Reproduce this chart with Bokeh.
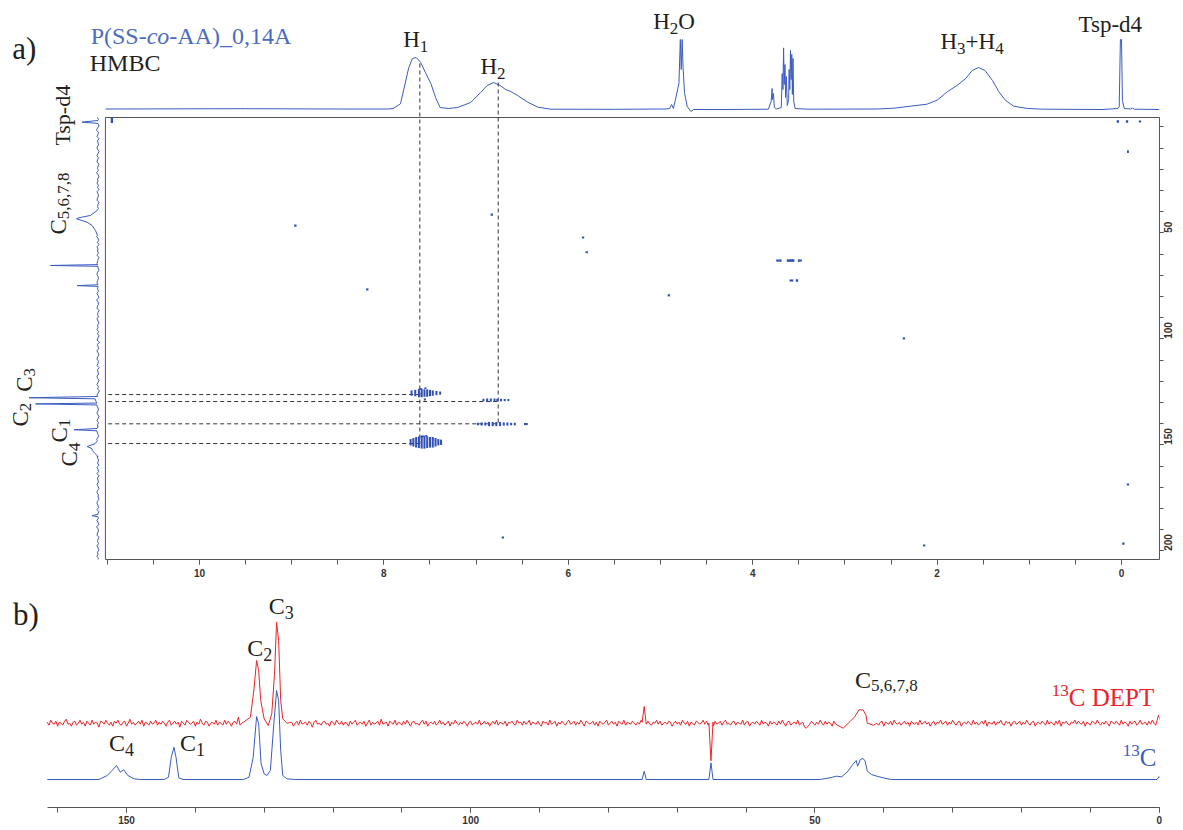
import math
from bokeh.plotting import figure
from bokeh.models import Range1d, LinearAxis, FixedTicker
from bokeh.layouts import column
from bokeh.core.properties import value
from bokeh.embed import file_html
from bokeh.resources import INLINE

# ---------------- data ----------------
# 1H projection (top trace of the HMBC map)
H1_PPM = [11.02, 9.50, 8.50, 7.95, 7.90, 7.82, 7.77, 7.73, 7.69, 7.65, 7.60, 7.55, 7.49, 7.44, 7.39, 7.30,
          7.20, 7.06, 6.95, 6.88, 6.81, 6.74, 6.68, 6.63, 6.55, 6.44, 6.33, 6.19, 5.50, 4.95, 4.90, 4.88,
          4.86, 4.84, 4.80, 4.785, 4.775, 4.765, 4.755, 4.74, 4.71, 4.67, 4.64, 4.30, 3.83, 3.80, 3.79,
          3.785, 3.775, 3.765, 3.74, 3.69, 3.68, 3.672, 3.665, 3.658, 3.65, 3.643, 3.635, 3.625, 3.61,
          3.605, 3.598, 3.59, 3.583, 3.576, 3.57, 3.563, 3.555, 3.54, 3.40, 2.65, 2.47, 2.29, 2.11, 2.00,
          1.89, 1.78, 1.69, 1.62, 1.55, 1.48, 1.40, 1.33, 1.26, 1.17, 1.02, 0.84, 0.20, 0.04, 0.025,
          0.012, 0.0, -0.01, -0.03, -0.10, -0.12, -0.14, -0.41]
H1_INT = [0.5, 0.8, 0.5, 0.5, 1, 5.7, 25.7, 42, 51, 52, 47, 37, 26, 12, 2, 1,
          2, 7, 17, 24, 27, 24, 20, 18.3, 14, 7.3, 2.3, 0.3, 0.2, 0.5, 1, 5,
          1, 9, 26, 70, 40, 70, 42, 17, 3, -2, 0, 0, 0.3, 8, 21,
          10, 16, 2, 0.5, 2, 36, 20, 61.6, 25, 45, 12, 33, 4, 10,
          40, 20, 59, 30, 55, 15, 51, 8, 1, 0.3, 0.5, 1.3, 3.3, 5.3, 9.3,
          17.7, 24.3, 31, 39, 42, 39, 29, 17.7, 9.3, 3.3, 1, 0.3, 0, 1, 2.6,
          70, 70, 9, 1, 0.5, 1.5, 0.3, 0]

# 13C projection (left trace of the HMBC map): peaks (ppm, intensity) and baseline noise
C13V_PEAKS = [
    [(-3.0, 0), (-2.2, 16), (-1.6, 0)],
    [(39.5, 1), (41.8, 7.5), (42.9, 19), (43.4, 21.5), (44.2, 16), (45.0, 11), (46.5, 6), (48.9, 2.5), (51.3, 0.5)],
    [(65.0, 0), (65.4, 47.5), (65.8, 0)],
    [(74.5, 0), (74.9, 21), (75.3, 0)],
    [(127.2, 0.5), (127.8, 69), (128.3, 3), (129.5, 2), (130.3, 1), (130.7, 62.5), (131.2, 1)],
    [(142.3, 1), (142.9, 24), (143.4, 1)],
    [(148.0, 0.5), (149.5, 3), (150.8, 10.8), (151.8, 6), (152.7, 5.8), (154.3, 2.5), (155.5, 0)],
    [(182.8, 0), (183.4, 6), (184.0, 0)],
]
C13V_NOISE = [0.5, -0.5, 1, 0, -1, 0.5, 1.5, -0.5, 0, 1, -1, 0.5, 0, -0.5, 1, 0.5, -1, 0, 1, -0.5,
              0.5, 1, -1, 0, 0.5, -0.5, 1.5, 0, -1, 0.5, 0, 1, -0.5, 0.5, -1, 1, 0, -0.5, 0.5, 1,
              -1, 0, 0.5, -0.5, 1, 0, -1, 0.5, 1, -0.5, 0, 0.5, -1, 1, 0, -0.5, 1.5, 0, -0.5, 0.5,
              -1, 1, 0, 0.5, -0.5, 1, -1, 0, 0.5, 1, -0.5, 0, -1, 0.5, 1, 0, -0.5, 0.5, 1, -1,
              0, 0.5, -0.5, 1, 0, -1, 1.5, 0, -0.5, 0.5, 1, -1, 0, 0.5, -0.5, 1, 0, -1, 0.5, 0,
              1, -0.5, 0.5, -1, 0, 1, -1.5, 0.5, 0, -0.5, 1, 0, -1, 0.5, 1, -0.5, 0, 1, -1, 0.5,
              0, -0.5, 1, 0.5, -1, 0, 1, -0.5, 0.5, -1.5, 0, 1, -0.5, 0, 0.5, -1, 1, 0, -0.5, 1,
              0.5, -1, 0, 1, -0.5, 0.5, 0, -1, 1, 0.5, -0.5, 0, 1.5, -1, 0, 0.5, -0.5, 1, 0, -1,
              1, 0, -0.5, 0.5, -1, 1, 0, -0.5, 1, -1, 0.5, 0, -0.5, 1, 0, -1, 0.5, 1, -0.5, 0,
              -1, 0.5, 1, 0, -0.5, 1, -1, 0, 0.5, -0.5, 1, 0, -1, 1.5, 0, -0.5, 0.5, 1, -1, 0,
              0.5, -0.5, 1, 0, -1, 0.5, 0, 1, -0.5, 0.5, -1, 1, 0, -0.5, 0.5, 1, -1, 0, 0.5, 0]

# HMBC cross peaks: 1H ppm, 13C ppm, extent in 1H ppm, extent in 13C ppm
CROSS_H = [7.70, 7.66, 7.62, 7.59, 7.56, 7.53, 7.50, 7.47, 7.43, 7.39, 7.556, 7.55, 7.60,
           6.92, 6.88, 6.84, 6.80, 6.77, 6.73, 6.69, 6.65,
           6.98, 6.94, 6.90, 6.86, 6.82, 6.78, 6.74, 6.70, 6.66, 6.62, 6.58, 6.46,
           7.71, 7.68, 7.65, 7.62, 7.59, 7.56, 7.53, 7.50, 7.47, 7.44, 7.41, 7.38, 7.58, 7.54,
           8.96, 8.18, 6.83, 5.84, 5.80, 4.91, 2.36, 6.71, 2.14, -0.07, -0.02, 0.04, -0.06, -0.20,
           -0.07, 10.95, 3.73, 3.70, 3.61, 3.58, 3.56, 3.50, 3.48, 3.58, 3.52, 3.49, 3.47]
CROSS_C = [125.6, 125.6, 125.6, 125.6, 125.6, 125.6, 125.6, 125.6, 125.6, 125.6, 128.6, 123.3, 123.6,
           128.9, 128.9, 128.9, 128.9, 128.9, 128.9, 128.9, 128.9,
           140.2, 140.2, 140.2, 140.2, 140.2, 140.2, 140.2, 140.2, 140.2, 140.2, 140.2, 140.2,
           148.8, 148.8, 148.8, 148.8, 148.8, 148.8, 148.8, 148.8, 148.8, 148.8, 148.8, 148.8, 146.0, 145.8,
           46.6, 76.7, 41.4, 52.2, 59.2, 79.5, 99.8, 193.7, 197.5, 168.7, 196.6, -2.5, -2.5, -2.5,
           11.7, -3.0, 63.1, 63.1, 63.1, 63.1, 63.1, 63.1, 63.1, 72.5, 72.5, 72.5, 72.5]
CROSS_DH = [0.022] * 13 + [0.022] * 8 + [0.022] * 11 + [0.04] + [0.022] * 12 + [0.04, 0.022] + \
           [0.025] * 14 + [0.02, 0.025, 0.03, 0.025, 0.04, 0.03, 0.025, 0.02, 0.025, 0.04, 0.025]
CROSS_DC = [2.5, 3.0, 4.0, 4.0, 3.5, 3.5, 3.0, 2.5, 2.0, 1.5, 1.0, 0.8, 0.8,
            1.2, 1.5, 1.5, 1.5, 1.2, 1.2, 1.0, 1.0,
            1.2, 1.5, 1.5, 2.0, 2.0, 2.0, 2.0, 1.5, 1.5, 1.2, 1.2, 1.0,
            3.0, 4.0, 5.0, 5.5, 6.0, 6.0, 5.5, 5.0, 5.0, 4.0, 3.0, 2.5, 0.8, 0.8,
            1.0, 1.0, 1.0, 1.0, 1.0, 1.0, 1.0, 1.0, 1.0, 1.0, 1.0, 1.2, 1.2, 1.0,
            1.2, 2.5, 1.0, 1.2, 1.2, 1.2, 1.2, 1.2, 1.0, 1.0, 1.2, 1.2, 1.0]

# correlation guide lines (1H ppm / 13C ppm)
GUIDE_H = [7.61, 6.76]
GUIDE_TOP_INT = [46, 27]
GUIDE_C_END = [149.4, 140.1]
HGUIDE_C = [126.3, 129.6, 140.1, 149.4]
HGUIDE_H_END = [7.61, 6.76, 6.76, 7.61]

# panel b: 13C spectrum (blue)
C13_PPM = [161.5, 154.0, 152.8, 152.1, 151.45, 150.9, 150.4, 149.8, 148.9, 148.0, 144.5, 143.9, 143.5, 143.1,
           142.8, 142.4, 141.8, 133.0, 132.2, 131.6, 131.1, 130.8, 130.45, 130.0, 129.6, 129.1, 128.6, 128.2,
           127.9, 127.6, 127.3, 126.7, 125.5, 75.1, 74.8, 74.5, 65.4, 65.1, 64.8, 49.3, 47.8, 46.9, 46.1,
           45.2, 44.5, 44.0, 43.8, 43.4, 43.0, 42.7, 42.4, 41.8, 41.0, 40.1, 38.9, 0.3, 0.0, -0.3, -1.2]
C13_INT = [0, 0, 4, 9, 14, 7.3, 9.7, 4, 0.7, 0, 0, 2.3, 22, 32.3,
           22, 1.7, 0, 0, 2.3, 22, 63, 55.7, 15.7, 5.7, 4, 9, 55.7, 89,
           79, 29, 4, 0.7, 0, 0, 8.3, 0, 0, 16.7, 0, 0, 1.7, 3.3, 2.7,
           8.3, 15, 19, 13.3, 20, 21, 18.3, 8.3, 5, 3.3, 1.7, 0, 0, 3, 0, 0]

# panel b: 13C DEPT spectrum (red): peaks and baseline noise
DEPT_PEAKS = [
    [(133.0, 1), (132.0, 6), (131.5, 33), (131.1, 62.7), (130.8, 52.7), (130.5, 22.7), (130.0, 4.3),
     (129.4, -2.3), (128.9, 9.3), (128.5, 49), (128.2, 101), (127.9, 82.7), (127.6, 22.7), (127.3, 4.3),
     (126.7, 0), (126.0, 1)],
    [(75.1, 1), (74.8, 16.7), (74.5, -1)],
    [(65.4, 0), (65.1, -37.6), (64.8, 1)],
    [(47.0, -1), (45.9, -5), (44.9, 1.7), (44.2, 6.7), (43.6, 13.3), (43.0, 13.3), (42.6, 8.3), (42.4, 0), (41.5, -2)],
    [(0.4, 0), (0.1, 8), (-0.2, 2), (-0.5, -1)],
]
DEPT_NOISE = [
    1, -2, 3, 0, -1, 2, -3, 1, 0, -2, 2, 4, -1, 0, -3, 1, 2, -2, 0, 3,
    -1, 1, -3, 2, 0, -2, 3, -1, 1, 0, -4, 2, 1, -1, 3, 0, -2, 1, -3, 2,
    0, 3, -1, -2, 1, 2, -3, 0, 4, -1, 1, -2, 0, 2, -1, 3, -3, 1, 0, -2,
    2, -1, 0, 3, -2, 1, -1, 2, 0, -3, 1, 3, -2, 0, 2, -1, 1, -4, 2, 0,
    -2, 3, 1, -1, 0, 2, -3, 1, -1, 4, 0, -2, 2, 1, -3, 0, 1, -1, 3, -2,
    1, 0, -2, 3, -1, 2, 0, -3, 1, 2, -1, 6, -2, 0, 1, -3, 2, -1, 0, 3,
    -1, 2, -2, 0, 1, -3, 3, -1, 0, 2, -2, 1, 3, -1, 0, -2, 2, -3, 1, 0,
    2, -1, 1, -3, 0, 2, -2, 3, -1, 0, 1, -2, 2, 0, -4, 1, 3, -1, 0, -2,
    1, 2, -1, 0, -3, 2, 1, -2, 3, 0, -1, 2, -2, 1, 0, -3, 2, -1, 1, 3,
    -2, 0, 1, -1, 2, -3, 0, 3, -2, 1, -1, 0, 2, -2, 4, -1, 0, 1, -3, 2,
    0, -1, 3, -2, 1, 0, -2, 2, -1, 3, 0, -3, 1, 2, -1, 0, -2, 1, 3, -1,
    2, -3, 0, 1, -1, 2, -2, 0, 3, -1, 1, -2, 0, 2, -3, 1, -1, 3, 0, -2,
    1, -1, 2, 0, -3, 1, 2, -2, 0, 1, -1, 3, -2, 0, 2, -1, 1, -3, 0, 2,
    -1, 3, -2, 1, 0, -1, 2, -3, 1, 0, 2, -1, -2, 3, 0, 1, -2, 2, -1, 0,
    3, -2, 1, 0, -1, 2, -1, -3, 2, 0, 1, -2, 3, -1, 0, 2, -3, 1, -1, 2,
    0, -2, 1, 3, -1, 0, 2, -2, 1, -1, 3, 0, -3, 2, 1, -1, 0, 2, -2, 1,
    -3, 2, 0, -1, 1, 3, -2, 0, 2, -1, 1, -3, 2, 0, -1, 3, -2, 1, 0, -1,
    2, 0, -2, 1, -1, 3, -3, 0, 1, 2, -1, -2, 1, 0, 3, -1, 2, -2, 0, 1,
    -1, 2, 1, -3, 0, 2, -1, 1, -2, 3, 0, -1, 2, -3, 1, 0, -2, 2, 1, -1,
    0, 3, -1, 2, -2, 0, 1, -3, 2, -1, 0, 2, -2, 1, 3, -1, 0, -2, 1, 2,
    -2, 1, 0, -1, 3, -2, 1, 2, -3, 0, 1, -1, 2, 0, -2, 3, -1, 1, 0, -3,
    2, -1, 1, 0, -2, 2, -1, 3, 0, -3, 1, 2, -2, 0, 1, -1, 3, -2, 0, 1,
    -4, -5, -3, -1, 2, 0, -2, 1, -1, 3, 0, -2, 2, -1, 1, 0, -3, 2, 1, -1,
    0, 2, -2, 1, -1, 3, -2, 0, 1, -1, 2, 0, -3, 1, 2, -1, 0, 2, -2, 1,
    3, -1, 0, -2, 1, 2, -3, 1, 0, -1, 2, -2, 3, 0, -1, 1, -2, 0, 2, -1,
    1, -3, 2, 0, -1, 1, -2, 3, -1, 0, 2, -1, 1, -3, 0, 2, -2, 1, 0, 3,
    -1, 0, 2, -2, 1, -1, 3, 0, -2, 1, 2, -3, 0, 1, -1, 2, 0, -2, 3, -1,
    1, -2, 0, 2, -1, 3, -3, 1, 0, -1, 2, -2, 1, 0, 3, -1, -2, 2, 0, 1,
    -3, 1, 2, -1, 0, 2, -2, 1, -1, 3, 0, -2, 1, 2, -3, 0, 1, -1, 2, 0,
    -2, 3, -1, 1, 0, -2, 2, -1, 3, -3, 1, 0, 2, -1, -2, 1, 0, 3, -1, 2,
    0, -1, 2, -3, 1, 0, -2, 2, 1, -1, 3, 0, -2, 1, -1, 2, 0, -3, 2, 1,
    -1, 2, 0, -2, 3, -1, 1, 0, -3, 2, -1, 1, 2, -2, 0, 3, -1, 0, 1, -2,
    2, -1, 3, 0, -2, 1, -1, 2, -3, 0, 1, 2, -1, 0, -2, 3, 1, -1, 0, 2]

# axis ticks
H_TICKS = [0, 2, 4, 6, 8, 10]
H_MINOR = [0, 0.5, 1, 1.5, 2, 2.5, 3, 3.5, 4, 4.5, 5, 5.5, 6, 6.5, 7, 7.5, 8, 8.5, 9, 9.5, 10, 10.5, 11]
C_TICKS = [50, 100, 150, 200]
C_MINOR = [0, 10, 20, 30, 40, 50, 60, 70, 80, 90, 100, 110, 120, 130, 140, 150, 160, 170, 180, 190, 200]
B_TICKS = [0, 50, 100, 150]
B_MINOR = [0, 10, 20, 30, 40, 50, 60, 70, 80, 90, 100, 110, 120, 130, 140, 150, 160]

# ---------------- style / layout constants ----------------
BLUE = "#3a5cbf"
TITLE_BLUE = "#4a6cc2"
DOT_BLUE = "#2f4fb5"
RED = "#ec2327"
INK = "#231f20"
AXIS_C = "#555555"
GUIDE_C = "#333333"
SERIF = "Liberation Serif"
SANS = "Liberation Sans"

W = 1180
RIGHT_BORDER = W - 1159      # both panels share the same right border (frames are aligned)
A_XR = (12.158, -0.412)      # 1H ppm across panel a frame
A_YR = (204.1, -59.58)       # 13C ppm across panel a frame (bottom, top)
A_HINT = (-450.0, 109.0)     # top-trace intensity range
A_CINT = (97.5, -1061.5)     # left-trace intensity range
WIN_H = (-0.412, 11.02)      # 2D window, 1H
WIN_C = (-4.39, 204.1)       # 2D window, 13C
B_XR = (168.3, -0.05)
B_YR = (-28.0, 195.0)
DEPT_OFFSET = 56.3
BASE_FIX = 0.33              # baseline correction (fraction of font size) for horizontal text

TW = {'H': .722, 'C': .667, 'O': .722, 'T': .611, 's': .389, 'p': .5, '-': .333, '+': .564, 'd': .5,
      ',': .25, 'P': .556, '(': .333, ')': .333, 'S': .556, 'c': .444, 'o': .5, 'A': .722, '_': .5,
      'M': .889, 'B': .667, 'E': .611, 'D': .722, ' ': .25, 'a': .444, 'b': .5}


def text_width(s, size):
    return sum(TW.get(ch, 0.5) for ch in s) * size


def rich(fig, x, y, parts, color, angle=0.0, xr="default", yr="default", xpp=0.0, ypp=1.0):
    """parts: (text, size_px, shift_down_px, style)"""
    adv = 0.0
    for part in parts:
        txt, size, shift = part[0], part[1], part[2]
        style = part[3] if len(part) > 3 else "normal"
        if angle == 0:
            px, py, xo = x, y - (shift - BASE_FIX * size) * ypp, adv
        else:
            px, py, xo = x + shift * xpp, y + adv * ypp, 0
        fig.text(x=[px], y=[py], text=[txt], x_offset=xo, angle=angle,
                 text_font=value(SERIF), text_font_size=value(f"{size}px"),
                 text_font_style=style, text_color=color, text_align="left",
                 text_baseline="alphabetic", x_range_name=xr, y_range_name=yr)
        adv += text_width(txt, size)


def assemble(start, step, noise, peaks):
    grid = [start + step * i for i in range(len(noise))]
    windows = [(min(p for p, _ in pk), max(p for p, _ in pk)) for pk in peaks]
    pts = [(g, n) for g, n in zip(grid, noise) if not any(lo <= g <= hi for lo, hi in windows)]
    pts += [pt for pk in peaks for pt in pk]
    pts.sort(key=lambda t: t[0])
    return [p for p, _ in pts], [v for _, v in pts]


def style_axis(ax, standoff):
    ax.axis_line_color = AXIS_C
    ax.major_tick_line_color = AXIS_C
    ax.minor_tick_line_color = AXIS_C
    ax.major_tick_in = 0
    ax.major_tick_out = 5
    ax.minor_tick_in = 0
    ax.minor_tick_out = 5
    ax.major_label_standoff = standoff
    ax.major_label_text_font = SANS
    ax.major_label_text_font_size = "10px"
    ax.major_label_text_font_style = "bold"
    ax.major_label_text_color = "#333333"


# ---------------- panel a : HMBC ----------------
pa = figure(width=W, height=584, x_range=Range1d(*A_XR), y_range=Range1d(*A_YR),
            x_axis_location=None, y_axis_location=None, output_backend="svg", toolbar_location=None,
            min_border_left=0, min_border_top=0, min_border_right=RIGHT_BORDER, min_border_bottom=25)
pa.outline_line_color = None
pa.xgrid.grid_line_color = None
pa.ygrid.grid_line_color = None
pa.extra_y_ranges = {"hint": Range1d(*A_HINT)}
pa.extra_x_ranges = {"cint": Range1d(*A_CINT)}

ax_b = LinearAxis(ticker=FixedTicker(ticks=H_TICKS, minor_ticks=H_MINOR), bounds=WIN_H)
style_axis(ax_b, 4)
pa.add_layout(ax_b, "below")
ax_r = LinearAxis(ticker=FixedTicker(ticks=C_TICKS, minor_ticks=C_MINOR), bounds=WIN_C,
                  major_label_orientation=math.pi / 2)
style_axis(ax_r, 5)
ax_r.major_tick_out = 4
ax_r.minor_tick_out = 4
pa.add_layout(ax_r, "right")

# 2D window frame
pa.quad(left=[WIN_H[1]], right=[WIN_H[0]], top=[WIN_C[0]], bottom=[WIN_C[1]],
        fill_color=None, line_color=AXIS_C, line_width=1)

# projections
pa.line(H1_PPM, H1_INT, y_range_name="hint", line_color=BLUE, line_width=1)
cv_ppm, cv_int = assemble(-4.4, 1.0, C13V_NOISE, C13V_PEAKS)
pa.line(cv_int, cv_ppm, x_range_name="cint", line_color=BLUE, line_width=1)


def hint_to_c(v):
    t = (v - A_HINT[0]) / (A_HINT[1] - A_HINT[0])
    return A_YR[0] + t * (A_YR[1] - A_YR[0])


# guide lines
pa.segment(x0=GUIDE_H, y0=[hint_to_c(v) for v in GUIDE_TOP_INT], x1=GUIDE_H, y1=GUIDE_C_END,
           line_color=GUIDE_C, line_dash="4 3", line_width=1)
pa.segment(x0=[WIN_H[1] - 0.03] * len(HGUIDE_C), y0=HGUIDE_C, x1=HGUIDE_H_END, y1=HGUIDE_C,
           line_color=GUIDE_C, line_dash="4 3", line_width=1)

# cross peaks
pa.rect(x=CROSS_H, y=CROSS_C, width=CROSS_DH, height=CROSS_DC, fill_color=DOT_BLUE,
        line_color=None)

# labels (panel a)
rich(pa, 12.03, 51, [("a)", 31, 0)], INK, yr="hint")
rich(pa, 11.18, 65.7, [("P(SS-", 24, 0), ("co", 24, 0, "italic"), ("-AA)_0,14A", 24, 0)], TITLE_BLUE, yr="hint")
rich(pa, 11.19, 39, [("HMBC", 24, 0)], INK, yr="hint")
rich(pa, 7.79, 62.3, [("H", 23, 0), ("1", 17, 5)], INK, yr="hint")
rich(pa, 6.952, 35.7, [("H", 23, 0), ("2", 17, 5)], INK, yr="hint")
rich(pa, 5.079, 80.7, [("H", 23, 0), ("2", 17, 5), ("O", 23, 0)], INK, yr="hint")
rich(pa, 1.963, 60.7, [("H", 23, 0), ("3", 17, 5), ("+", 23, 0), ("H", 23, 0), ("4", 17, 5)], INK, yr="hint")
rich(pa, 0.466, 77.3, [("Tsp-d4", 23, 0)], INK, yr="hint")

VK = dict(angle=math.pi / 2, xr="cint", xpp=-1.0, ypp=-1 / 2.12)
rich(pa, 35.5, 8.87, [("Tsp-d4", 22, 0)], INK, **VK)
rich(pa, 39.5, 50.8, [("C", 23, 0), ("5,6,7,8", 17, 5)], INK, **VK)
rich(pa, 73.5, 125.0, [("C", 23, 0), ("3", 17, 5)], INK, **VK)
rich(pa, 77.5, 141.4, [("C", 23, 0), ("2", 17, 5)], INK, **VK)
rich(pa, 38.5, 148.9, [("C", 23, 0), ("1", 17, 5)], INK, **VK)
rich(pa, 28.5, 160.2, [("C", 23, 0), ("4", 17, 5)], INK, **VK)

# ---------------- panel b : 13C and DEPT ----------------
pb = figure(width=W, height=244, x_range=Range1d(*B_XR), y_range=Range1d(*B_YR),
            x_axis_location=None, y_axis_location=None, output_backend="svg", toolbar_location=None,
            min_border_left=0, min_border_top=0, min_border_right=RIGHT_BORDER, min_border_bottom=21)
pb.outline_line_color = None
pb.xgrid.grid_line_color = None
pb.ygrid.grid_line_color = None
ax_bb = LinearAxis(ticker=FixedTicker(ticks=B_TICKS, minor_ticks=B_MINOR), bounds=(-0.05, 161.5))
style_axis(ax_bb, 3)
pb.add_layout(ax_bb, "below")

d_ppm, d_int = assemble(161.5, -0.25, DEPT_NOISE, DEPT_PEAKS)
pb.line(d_ppm, [v + DEPT_OFFSET for v in d_int], line_color=RED, line_width=1)
pb.line(C13_PPM, C13_INT, line_color=BLUE, line_width=1)

rich(pb, 166.5, 155, [("b)", 31, 0)], INK)
rich(pb, 152.55, 29, [("C", 24, 0), ("4", 18, 5)], INK)
rich(pb, 142.24, 29, [("C", 24, 0), ("1", 18, 5)], INK)
rich(pb, 132.46, 124, [("C", 24, 0), ("2", 18, 5)], INK)
rich(pb, 129.33, 166, [("C", 24, 0), ("3", 18, 5)], INK)
rich(pb, 44.19, 92, [("C", 24, 0), ("5,6,7,8", 17, 4)], INK)
rich(pb, 15.6, 74, [("13", 17, -9), ("C DEPT", 25, 0)], RED)
rich(pb, 5.3, 14, [("13", 17, -9), ("C", 25, 0)], BLUE)

layout = column(pa, pb, spacing=0)
open("out.html", "w").write(file_html(layout, INLINE))
